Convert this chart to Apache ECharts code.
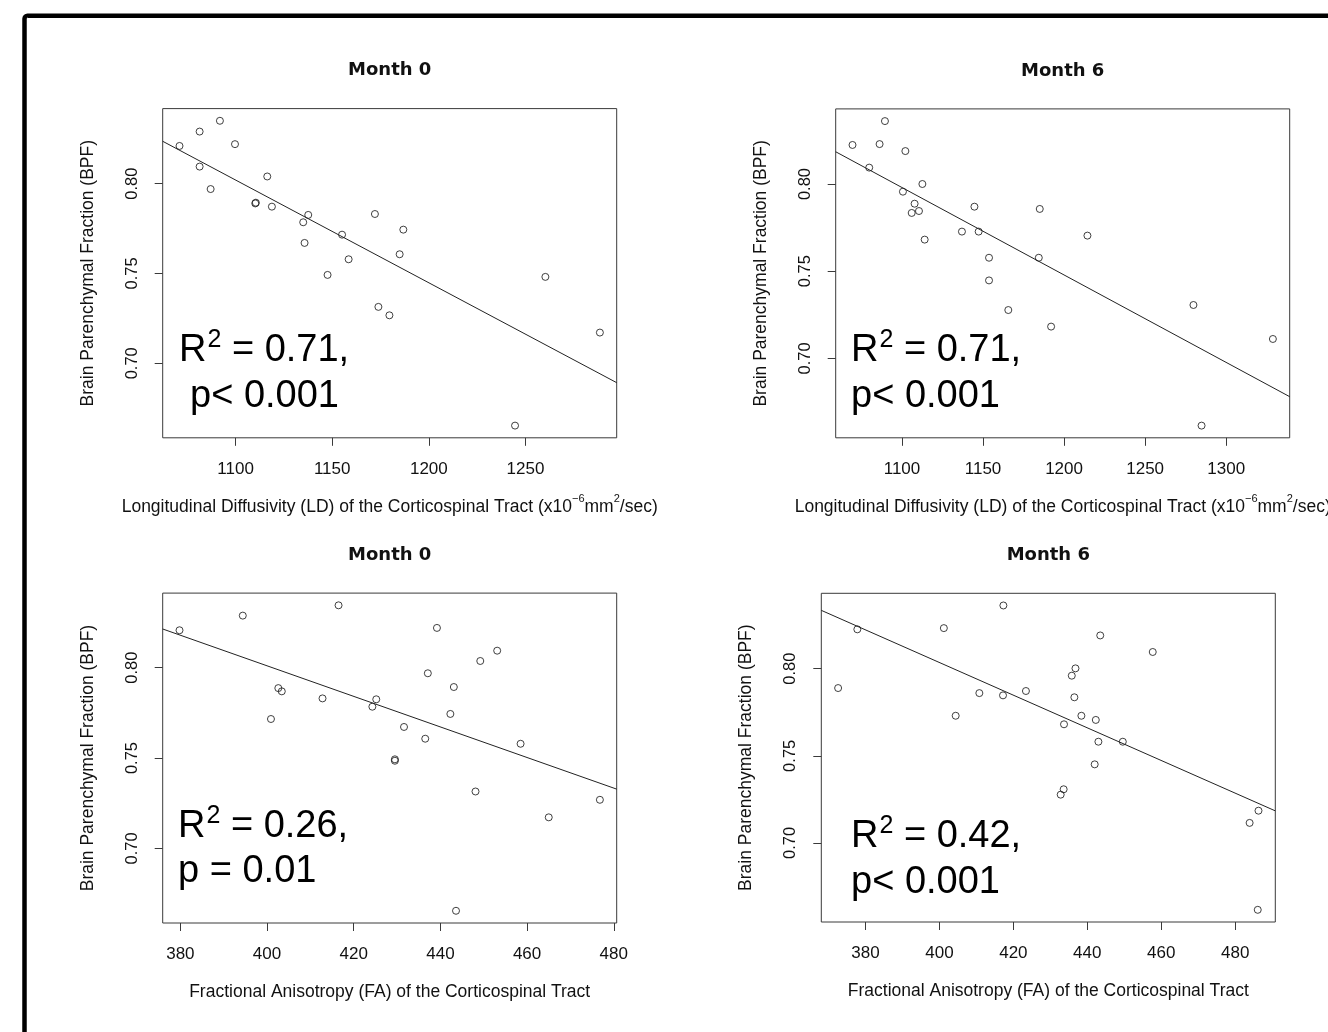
<!DOCTYPE html>
<html>
<head>
<meta charset="utf-8">
<script src="https://cdn.jsdelivr.net/npm/echarts@6/dist/echarts.min.js"></script>
<style>
html,body{margin:0;padding:0;background:#fff;}
#chart{width:1328px;height:1032px;}
</style>
</head>
<body>
<div id="chart"></div>
<script>
// ---- data ----
var ld0_x = [1071.0,1081.4,1091.9,1099.7,1081.4,1087.1,1116.4,1110.2,1110.5,1118.8,1137.6,1135.0,1135.7,1155.1,1158.5,1147.6,1172.1,1186.8,1184.9,1173.9,1179.6,1260.3,1288.5,1244.6];
var ld0_y = [0.821,0.829,0.835,0.822,0.8095,0.797,0.804,0.789,0.7894,0.7872,0.7826,0.7785,0.767,0.7716,0.7579,0.7492,0.7831,0.7744,0.7607,0.7314,0.7267,0.7481,0.7171,0.6653];

var ld6_x = [1069.5,1086.2,1089.5,1102.1,1079.8,1112.6,1100.6,1107.8,1106.0,1110.5,1114.0,1144.7,1137.0,1147.3,1153.7,1153.7,1165.6,1185.0,1184.4,1192.0,1214.4,1279.8,1284.8,1328.8];
var ld6_y = [0.8224,0.8229,0.8361,0.8189,0.8094,0.800,0.7956,0.7887,0.7834,0.7845,0.7681,0.787,0.7727,0.7727,0.7577,0.7447,0.7277,0.7857,0.7577,0.7182,0.7704,0.7306,0.6614,0.7111];

var fa0_x = [379.8,394.4,416.5,439.2,453.1,449.2,437.1,443.1,402.6,403.4,412.8,425.2,424.3,400.9,442.3,431.6,436.5,429.5,429.5,458.5,448.1,476.8,465.0,443.6];
var fa0_y = [0.8207,0.8288,0.8345,0.822,0.8094,0.8037,0.7969,0.7893,0.7887,0.7869,0.783,0.7825,0.7784,0.7716,0.7744,0.7672,0.7607,0.7493,0.7485,0.7579,0.7315,0.7269,0.7172,0.6655];

var fa6_x = [372.6,377.8,401.2,417.3,443.5,457.7,436.8,435.8,410.8,417.2,423.4,436.5,404.4,438.4,442.3,433.7,443.0,449.6,442.0,433.6,432.8,486.3,483.9,486.1];
var fa6_y = [0.7889,0.8226,0.8233,0.8363,0.8191,0.8096,0.8002,0.796,0.786,0.7847,0.7872,0.7836,0.773,0.773,0.7706,0.7681,0.7581,0.7581,0.7451,0.7308,0.7277,0.7185,0.7115,0.6616];

// fitted line: y value at left and right edge of the plot region
var fit_ld0 = [0.8236, 0.6892];
var fit_ld6 = [0.8185, 0.6780];
var fit_fa0 = [0.8214, 0.7328];
var fit_fa6 = [0.8335, 0.7184];

var ticks_ld0 = [1100,1150,1200,1250];
var ticks_ld6 = [1100,1150,1200,1250,1300];
var ticks_fa = [380,400,420,440,460,480];
var ticks_y = [0.70,0.75,0.80];

var titles = ['Month 0','Month 6','Month 0','Month 6'];
var stats = [['0.71,','p< 0.001'],['0.71,','p< 0.001'],['0.26,','p = 0.01'],['0.42,','p< 0.001']];

// ---- build ----
function pad(arr){
  var mn = Math.min.apply(null,arr), mx = Math.max.apply(null,arr), r = mx-mn;
  return [mn-0.04*r, mx+0.04*r];
}
function pairs(xs,ys){ return xs.map(function(x,i){return [x,ys[i]];}); }

var FONT = "'Liberation Sans', Arial, sans-serif";
var panels = [
  {x:ld0_x,y:ld0_y,fit:fit_ld0,ticks:ticks_ld0,grid:{left:162.7,top:108.6,width:454,height:329.2},name:'ld'},
  {x:ld6_x,y:ld6_y,fit:fit_ld6,ticks:ticks_ld6,grid:{left:835.7,top:108.9,width:454,height:328.9},name:'ld'},
  {x:fa0_x,y:fa0_y,fit:fit_fa0,ticks:ticks_fa,grid:{left:162.7,top:593.1,width:454,height:329.9},name:'fa'},
  {x:fa6_x,y:fa6_y,fit:fit_fa6,ticks:ticks_fa,grid:{left:821.3,top:593.3,width:454,height:328.7},name:'fa'}
];

var ldName = '{n|Longitudinal Diffusivity (LD) of the Corticospinal Tract (x10}{s|−6}{n|mm}{s|2}{n|/sec)}';
var faName = 'Fractional Anisotropy (FA) of the Corticospinal Tract';
var NAMESIZE = 17.5;

var grids=[], xAxes=[], yAxes=[], series=[], graphics=[];
panels.forEach(function(p,i){
  var xr = pad(p.x), yr = pad(p.y);
  grids.push({left:p.grid.left, top:p.grid.top, width:p.grid.width, height:p.grid.height,
    show:true, borderColor:'#3a3a3a', borderWidth:1, backgroundColor:'transparent',
    containLabel:false, outerBoundsMode:'none'});
  xAxes.push({
    type:'value', gridIndex:i, min:xr[0], max:xr[1],
    axisLine:{show:false},
    axisTick:{show:true, inside:false, length:8, customValues:p.ticks, lineStyle:{color:'#3a3a3a'}},
    axisLabel:{show:true, customValues:p.ticks, margin:23, color:'#111', fontSize:17, fontFamily:FONT,
      formatter:function(v){return String(v);}},
    splitLine:{show:false},
    name: p.name==='ld' ? ldName : faName,
    nameLocation:'middle', nameGap: p.name==='ld' ? 56 : 60,
    nameTextStyle:{color:'#111', fontSize:NAMESIZE, fontFamily:FONT,
      rich:{n:{fontSize:NAMESIZE,fontFamily:FONT,color:'#111',verticalAlign:'bottom',lineHeight:22},
            s:{fontSize:11,fontFamily:FONT,color:'#111',verticalAlign:'top',lineHeight:22}}}
  });
  yAxes.push({
    type:'value', gridIndex:i, min:yr[0], max:yr[1],
    axisLine:{show:false},
    axisTick:{show:true, inside:false, length:8, customValues:ticks_y, lineStyle:{color:'#3a3a3a'}},
    axisLabel:{show:true, customValues:ticks_y, rotate:90, margin:22, color:'#111', fontSize:16.5, fontFamily:FONT,
      formatter:function(v){return v.toFixed(2);}},
    splitLine:{show:false},
    name:'Brain Parenchymal Fraction (BPF)', nameLocation:'middle', nameGap:66, nameRotate:90,
    nameTextStyle:{color:'#111', fontSize:NAMESIZE, fontFamily:FONT}
  });
  series.push({
    type:'scatter', xAxisIndex:i, yAxisIndex:i, data:pairs(p.x,p.y),
    symbol:'circle', symbolSize:7,
    itemStyle:{color:'rgba(255,255,255,0)', borderColor:'#111', borderWidth:1},
    silent:true, animation:false
  });
  series.push({
    type:'line', xAxisIndex:i, yAxisIndex:i, data:[[xr[0],p.fit[0]],[xr[1],p.fit[1]]],
    symbol:'none', lineStyle:{color:'#222', width:1}, silent:true, animation:false, clip:true
  });
  var cx = p.grid.left + p.grid.width/2;
  graphics.push({type:'text', x:cx, y:p.grid.top-38, style:{text:titles[i], textAlign:'center', textVerticalAlign:'middle',
    font:"bold 18px 'DejaVu Sans', 'Noto Sans', sans-serif", fill:'#111'}});
});

// statistic annotations
var statPos = [
  {x:179, y1:348, x2:190, y2:397},
  {x:851, y1:348, x2:851, y2:397},
  {x:178, y1:824, x2:178, y2:872},
  {x:851, y1:834, x2:851, y2:883}
];
statPos.forEach(function(s,i){
  graphics.push({type:'text', x:s.x, y:s.y1, style:{
    text:'{r|R}{s|2}{r| = '+stats[i][0]+'}', textVerticalAlign:'middle', textAlign:'left',
    rich:{r:{fontSize:38, fontFamily:FONT, fill:'#000', lineHeight:44, verticalAlign:'bottom'},
          s:{fontSize:25, fontFamily:FONT, fill:'#000', lineHeight:44, verticalAlign:'top', padding:[2,0,0,1]}}
  }});
  graphics.push({type:'text', x:s.x2, y:s.y2, style:{
    text:stats[i][1], textVerticalAlign:'middle', textAlign:'left',
    font:"38px 'Liberation Sans', Arial, sans-serif", fill:'#000'}});
});

// outer frame
graphics.push({type:'rect', shape:{x:24.5, y:15.8, width:1400, height:1100, r:3},
  style:{fill:'none', stroke:'#000', lineWidth:4.5}, silent:true});

var chart = echarts.init(document.getElementById('chart'), null, {renderer:'canvas'});
chart.setOption({
  animation:false,
  backgroundColor:'#fff',
  grid:grids, xAxis:xAxes, yAxis:yAxes, series:series, graphic:graphics
});
</script>
</body>
</html>
